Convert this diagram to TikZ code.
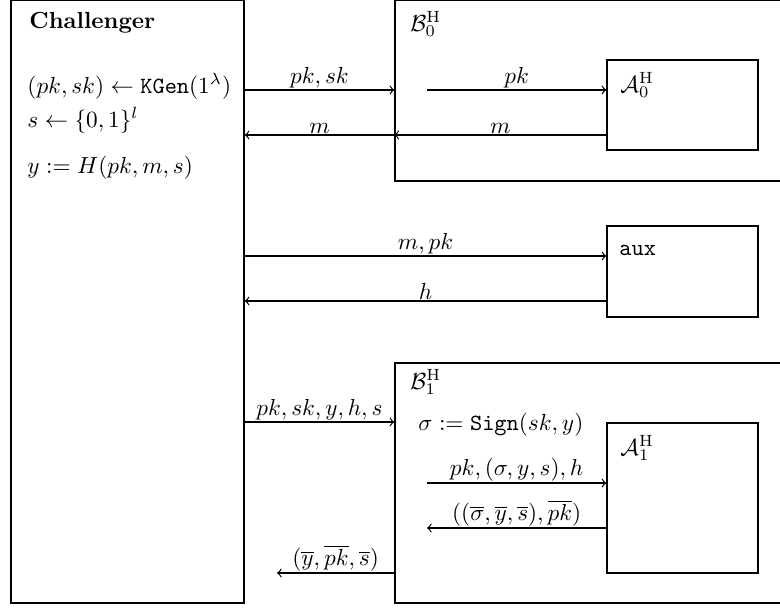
\documentclass[tikz,border=0pt]{standalone}
\usepackage{amsmath,amssymb}
\usetikzlibrary{fit,positioning}
\tikzset{
  frame/.style={rectangle, draw, line width=0.6pt, inner sep=0pt},
  txt/.style={anchor=base west, inner sep=0pt},
  arr/.style={->, line width=0.5pt},
  lbl/.style={midway, above, inner sep=0.5pt}
}

\begin{document}
\begin{tikzpicture}[x=0.43pt, y=-0.43pt]
\useasboundingbox (0,0) rectangle (780,610);

% parties
\node[frame, fit={(11,0.5)(244,603)}] (ch) {};
\node[frame, fit={(395,0.5)(792,181)}] (b0) {};
\node[frame, fit={(607,60)(758,150)}] (a0) {};
\node[frame, fit={(607,226)(758,317)}] (aux) {};
\node[frame, fit={(395,363)(792,603)}] (b1) {};
\node[frame, fit={(607,423)(758,573)}] (a1) {};

% texts
\node[txt, font=\bfseries] (chname) at (29,28) {Challenger};
\node[txt] (kgen) at (27,93) {$(pk,sk) \leftarrow \mathtt{KGen}(1^\lambda)$};
\node[txt] (samp) at (27,127) {$s \leftarrow \{0,1\}^l$};
\node[txt] (hash) at (27,173) {$y := H(pk,m,s)$};
\node[txt] (b0name) at (410,31) {$\mathcal{B}_0^{\mathrm{H}}$};
\node[txt] (a0name) at (620,92) {$\mathcal{A}_0^{\mathrm{H}}$};
\node[txt] (auxname) at (619,255) {\texttt{aux}};
\node[txt] (b1name) at (410,389) {$\mathcal{B}_1^{\mathrm{H}}$};
\node[txt] (sign) at (418,430) {$\sigma := \mathtt{Sign}(sk,y)$};
\node[txt] (a1name) at (620,455) {$\mathcal{A}_1^{\mathrm{H}}$};

% rows
\coordinate (r1) at (0,90);
\coordinate (r2) at (0,135);
\coordinate (r3) at (0,256);
\coordinate (r4) at (0,301);
\coordinate (r5) at (0,422);
\coordinate (r7) at (0,528);
\coordinate (b0in) at (427,90);
\coordinate (b1in) at (427,483);
\coordinate (chout) at (277,573);

% messages
\draw[arr] (ch.east |- r1) -- node[lbl] {$pk,sk$} (b0.west |- r1);
\draw[arr] (b0.west |- r2) -- node[lbl] {$m$} (ch.east |- r2);
\draw[arr] (b0in) -- node[lbl] {$pk$} (a0.west |- b0in);
\draw[arr] (a0.west |- r2) -- node[lbl] {$m$} (b0.west |- r2);
\draw[arr] (ch.east |- r3) -- node[lbl] {$m,pk$} (aux.west |- r3);
\draw[arr] (aux.west |- r4) -- node[lbl] {$h$} (ch.east |- r4);
\draw[arr] (ch.east |- r5) -- node[lbl] {$pk,sk,y,h,s$} (b1.west |- r5);
\draw[arr] (b1in) -- node[lbl] {$pk,(\sigma,y,s),h$} (a1.west |- b1in);
\draw[arr] (a1.west |- r7) -- node[lbl] {$((\overline{\sigma},\overline{y},\overline{s}),\overline{pk})$} (b1in |- r7);
\draw[arr] (b1.west |- chout) -- node[lbl] {$(\overline{y},\overline{pk},\overline{s})$} (chout);
\end{tikzpicture}
\end{document}
